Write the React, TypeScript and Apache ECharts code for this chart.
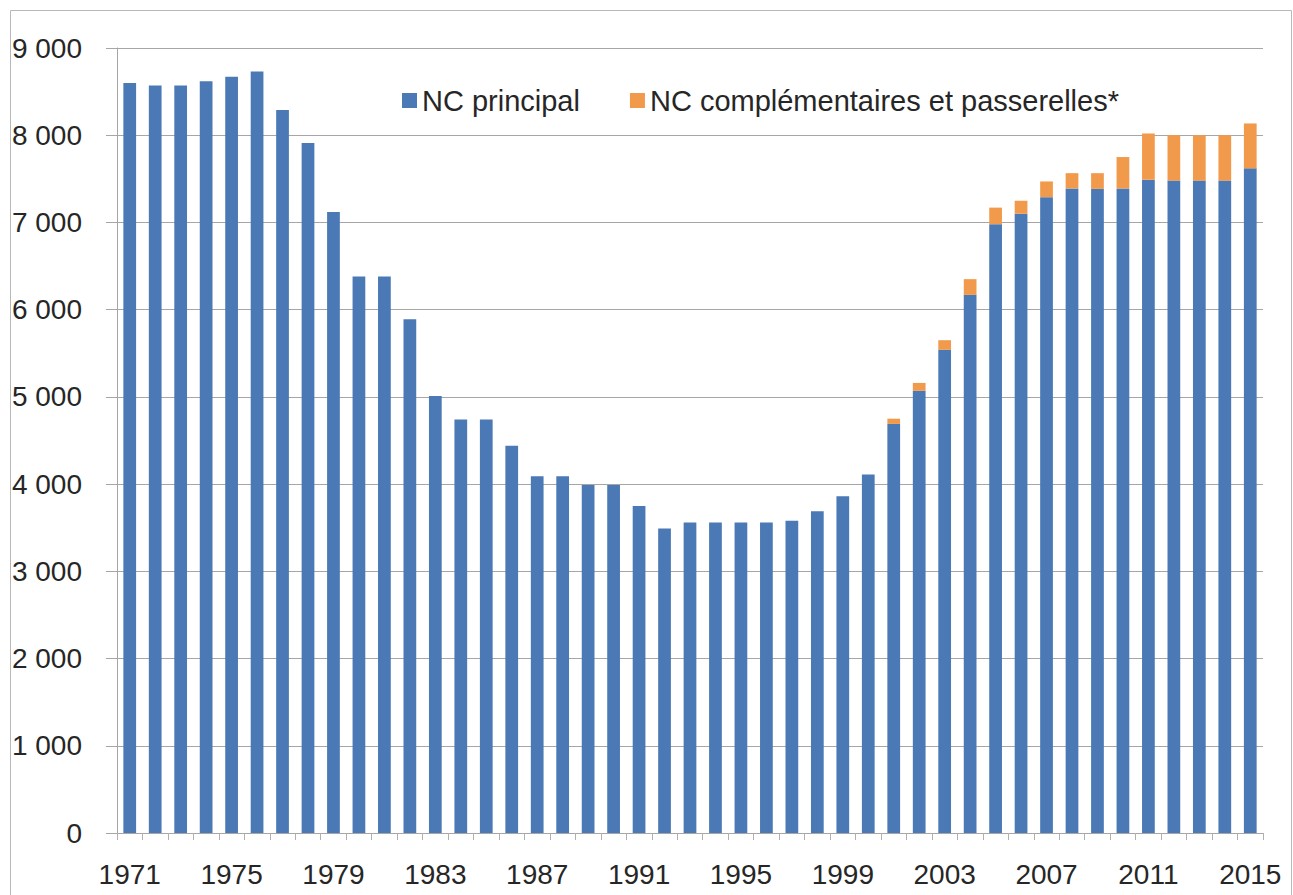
import React, { useEffect, useRef } from "react";
import * as echarts from "echarts";

const years: string[] = [
  "1971", "1972", "1973", "1974", "1975", "1976", "1977", "1978", "1979", "1980",
  "1981", "1982", "1983", "1984", "1985", "1986", "1987", "1988", "1989", "1990",
  "1991", "1992", "1993", "1994", "1995", "1996", "1997", "1998", "1999", "2000",
  "2001", "2002", "2003", "2004", "2005", "2006", "2007", "2008", "2009", "2010",
  "2011", "2012", "2013", "2014", "2015",
];

const ncPrincipal: number[] = [
  8600, 8570, 8570, 8620, 8670, 8730, 8290, 7910, 7120, 6380,
  6380, 5890, 5010, 4740, 4740, 4440, 4090, 4090, 3990, 3990,
  3750, 3490, 3560, 3560, 3560, 3560, 3580, 3690, 3860, 4110,
  4690, 5070, 5540, 6170, 6980, 7100, 7290, 7390, 7385, 7390,
  7490, 7480, 7480, 7480, 7620,
];

const ncComplementaires: number[] = [
  0, 0, 0, 0, 0, 0, 0, 0, 0, 0,
  0, 0, 0, 0, 0, 0, 0, 0, 0, 0,
  0, 0, 0, 0, 0, 0, 0, 0, 0, 0,
  60, 90, 110, 180, 190, 150, 180, 175, 180, 360,
  530, 520, 520, 520, 515,
];

const yTickLabels: string[] = [
  "0", "1 000", "2 000", "3 000", "4 000", "5 000", "6 000", "7 000", "8 000", "9 000",
];

const seriesNames: string[] = ["NC principal", "NC complémentaires et passerelles*"];

const FONT = "'Liberation Sans', Arial, sans-serif";
const TEXT = "#262626";

export default function App() {
  const ref = useRef<HTMLDivElement>(null);

  useEffect(() => {
    if (!ref.current) return;
    const chart = echarts.init(ref.current, undefined, { renderer: "svg" });
    chart.setOption({
      animation: false,
      backgroundColor: "#ffffff",
      textStyle: { fontFamily: FONT },
      graphic: [
        {
          type: "rect",
          shape: { x: 10.5, y: 10.5, width: 1281, height: 900 },
          style: { fill: "none", stroke: "#b8b8b8", lineWidth: 1 },
          silent: true,
        },
      ],
      legend: {
        left: 397,
        top: 81,
        itemWidth: 15,
        itemHeight: 15,
        itemGap: 50,
        icon: "rect",
        textStyle: { fontFamily: FONT, fontSize: 29, color: TEXT },
        data: seriesNames,
      },
      grid: { left: 117, right: 30, top: 48, bottom: 62, containLabel: false },
      xAxis: {
        type: "category",
        data: years,
        axisLine: { show: true, lineStyle: { color: "#a6a6a6", width: 1 } },
        axisTick: { show: true, interval: 0, length: 7, lineStyle: { color: "#b0b0b0" } },
        axisLabel: {
          interval: 3,
          fontFamily: FONT,
          fontSize: 28,
          color: TEXT,
          margin: 27,
        },
      },
      yAxis: {
        type: "value",
        min: 0,
        max: 9000,
        interval: 1000,
        axisLine: { show: true, lineStyle: { color: "#a6a6a6", width: 1 } },
        axisTick: { show: true, length: 11, lineStyle: { color: "#a6a6a6" } },
        splitLine: { show: true, lineStyle: { color: "#a6a6a6", width: 1 } },
        axisLabel: {
          fontFamily: FONT,
          fontSize: 28,
          color: TEXT,
          margin: 35,
          formatter: (v: number) => yTickLabels[Math.round(v / 1000)] ?? String(v),
        },
      },
      series: [
        {
          name: seriesNames[0],
          type: "bar",
          stack: "total",
          data: ncPrincipal,
          barCategoryGap: "50%",
          itemStyle: { color: "#4a79b5" },
        },
        {
          name: seriesNames[1],
          type: "bar",
          stack: "total",
          data: ncComplementaires,
          barCategoryGap: "50%",
          itemStyle: { color: "#f29a4c" },
        },
      ],
    });
    return () => chart.dispose();
  }, []);

  return (
    <div
      ref={ref}
      style={{ position: "fixed", left: 0, top: 0, width: 1293, height: 895, background: "#fff" }}
    />
  );
}
